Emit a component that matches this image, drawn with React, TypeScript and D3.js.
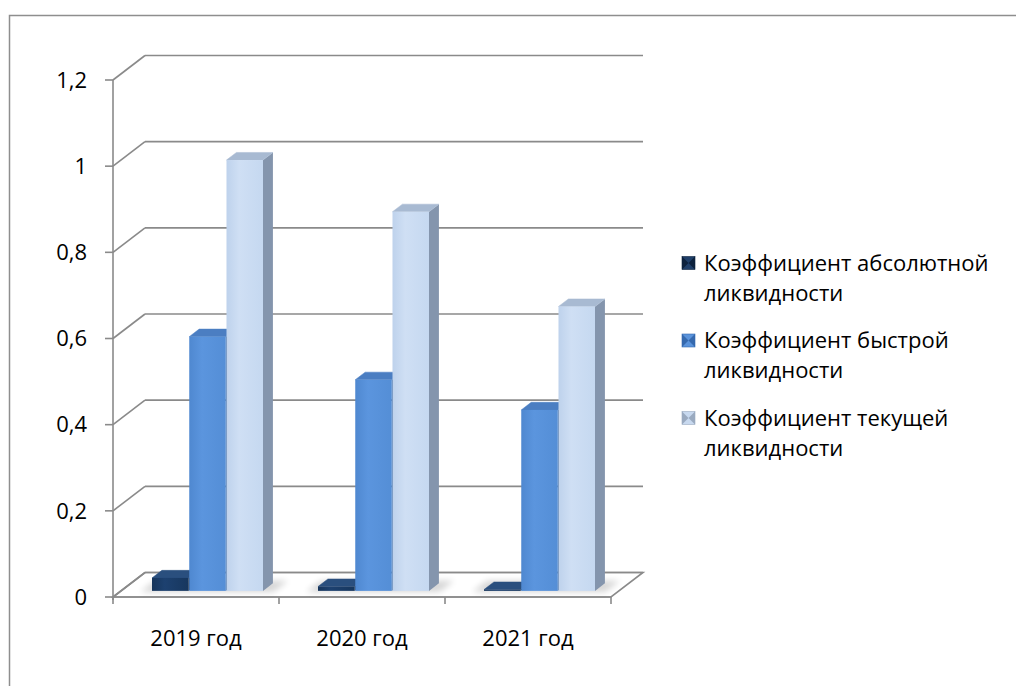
import React from "react";
import * as d3 from "d3";

// Liquidity ratios by year
const categories: string[] = ["2019 год", "2020 год", "2021 год"];
const seriesNames: string[] = [
  "Коэффициент абсолютной ликвидности",
  "Коэффициент быстрой ликвидности",
  "Коэффициент текущей ликвидности",
];
const absoluteRatio: number[] = [0.03, 0.01, 0.003];
const quickRatio: number[] = [0.59, 0.49, 0.42];
const currentRatio: number[] = [1.0, 0.88, 0.66];
const yTicks: number[] = [0, 0.2, 0.4, 0.6, 0.8, 1, 1.2];
const legendLines: string[][] = [
  ["Коэффициент абсолютной", "ликвидности"],
  ["Коэффициент быстрой", "ликвидности"],
  ["Коэффициент текущей", "ликвидности"],
];

const seriesValues = [absoluteRatio, quickRatio, currentRatio];

// Face colours: front gradient stops, top, side
const palette = [
  { front: ["#16355B", "#1D4170", "#17375E"], top: "#2A4F7E", side: "#0F2747", legend: "#1F3F69", legendDark: "#0D223D" },
  { front: ["#4F88D0", "#5B95DE", "#548ED6"], top: "#4B7EC2", side: "#3A67A0", legend: "#5A93DB", legendDark: "#3569AE" },
  { front: ["#BED2EC", "#CFDFF4", "#C5D8F0"], top: "#A8BAD2", side: "#8495AD", legend: "#C8D9EF", legendDark: "#9AAAC0" },
];

const FONT = "'Open Sans', 'Noto Sans', sans-serif";
const FS = 22;
const GRID = "#8A8A8A";

// oblique projection of the back wall
const DX = 32;
const DY = -24.5;
const Z0 = 0.25;
const Z1 = 0.56;

export default function App() {
  const y = d3.scaleLinear().domain([0, 1.2]).range([597, 80]);
  const x = d3.scaleBand<string>().domain(categories).range([113, 611]).padding(0);
  const xs = d3
    .scaleBand<string>()
    .domain(seriesNames)
    .range([31, 142])
    .paddingInner(0.02);

  const P = (xf: number, v: number, z: number): [number, number] => [xf + z * DX, y(v) + z * DY];
  const poly = (pts: [number, number][]) => pts.map((p) => p.join(",")).join(" ");

  const x0 = 113;
  const x1 = 611;
  const yMax = 1.2;

  return (
    <svg
      width={1016}
      height={686}
      style={{ position: "absolute", left: 0, top: 0, background: "#fff" }}
    >
      <defs>
        {palette.map((c, i) => (
          <linearGradient key={i} id={`front${i}`} x1="0" x2="1" y1="0" y2="0">
            <stop offset="0" stopColor={c.front[0]} />
            <stop offset="0.35" stopColor={c.front[1]} />
            <stop offset="1" stopColor={c.front[2]} />
          </linearGradient>
        ))}
        <filter id="soft" x="-50%" y="-50%" width="200%" height="200%">
          <feGaussianBlur stdDeviation="3" />
        </filter>
      </defs>

      {/* chart border */}
      <rect x={9.5} y={15.5} width={1100} height={800} fill="none" stroke="#8E8E8E" strokeWidth={1.5} />

      {/* floor */}
      <polygon
        points={poly([P(x0, 0, 0), P(x1, 0, 0), P(x1, 0, 1), P(x0, 0, 1)])}
        fill="#fff"
        stroke={GRID}
        strokeWidth={1.6}
      />

      {/* gridlines on side and back walls */}
      {yTicks.map((t) => (
        <g key={t}>
          <line
            x1={P(x0, t, 0)[0]}
            y1={P(x0, t, 0)[1]}
            x2={P(x0, t, 1)[0]}
            y2={P(x0, t, 1)[1]}
            stroke={GRID}
            strokeWidth={1.6}
          />
          <line
            x1={P(x0, t, 1)[0]}
            y1={P(x0, t, 1)[1]}
            x2={P(x1, t, 1)[0]}
            y2={P(x1, t, 1)[1]}
            stroke={GRID}
            strokeWidth={1.6}
          />
          <line x1={105} x2={x0} y1={y(t)} y2={y(t)} stroke={GRID} strokeWidth={1.6} />
          <text
            x={87}
            y={y(t)}
            dy="0.35em"
            textAnchor="end"
            fontFamily={FONT}
            fontSize={FS}
            fill="#000"
          >
            {String(t).replace(".", ",")}
          </text>
        </g>
      ))}

      {/* value axis */}
      <line x1={x0} x2={x0} y1={y(yMax)} y2={y(0) + 3} stroke={GRID} strokeWidth={1.6} />

      {/* category axis */}
      <line x1={x0} x2={x1} y1={y(0)} y2={y(0)} stroke={GRID} strokeWidth={1.6} />
      {[...categories.map((c) => x(c) as number), x1].map((tx, i) => (
        <line key={i} x1={tx} x2={tx} y1={y(0)} y2={y(0) + 7} stroke={GRID} strokeWidth={1.6} />
      ))}
      {categories.map((c) => (
        <text
          key={c}
          x={(x(c) as number) + x.bandwidth() / 2}
          y={638}
          dy="0.35em"
          textAnchor="middle"
          fontFamily={FONT}
          fontSize={FS}
          fill="#000"
        >
          {c}
        </text>
      ))}

      {/* floor shadows under each group */}
      {categories.map((c) => {
        const gx0 = (x(c) as number) + (xs(seriesNames[0]) as number);
        const gx1 = (x(c) as number) + (xs(seriesNames[2]) as number) + xs.bandwidth();
        return (
          <polygon
            key={"sh" + c}
            points={poly([P(gx0 - 10, 0, Z0 - 0.05), P(gx1 + 12, 0, Z0 - 0.05), P(gx1 + 12, 0, Z1 + 0.1), P(gx0 - 10, 0, Z1 + 0.1)])}
            fill="#000"
            opacity={0.16}
            filter="url(#soft)"
          />
        );
      })}

      {/* columns */}
      {categories.map((c, ci) =>
        seriesNames.map((s, si) => {
          const v = seriesValues[si][ci];
          const bx = (x(c) as number) + (xs(s) as number);
          const bw = xs.bandwidth();
          const col = palette[si];
          const fTL = P(bx, v, Z0);
          const fBR = P(bx + bw, 0, Z0);
          return (
            <g key={c + s}>
              <polygon
                points={poly([P(bx + bw, 0, Z0), P(bx + bw, v, Z0), P(bx + bw, v, Z1), P(bx + bw, 0, Z1)])}
                fill={col.side}
              />
              <polygon
                points={poly([P(bx, v, Z0), P(bx + bw, v, Z0), P(bx + bw, v, Z1), P(bx, v, Z1)])}
                fill={col.top}
                stroke={col.top}
                strokeWidth={0.5}
                strokeLinejoin="round"
              />
              <rect
                x={fTL[0]}
                y={fTL[1]}
                width={fBR[0] - fTL[0]}
                height={Math.max(0, fBR[1] - fTL[1])}
                fill={`url(#front${si})`}
              />
            </g>
          );
        })
      )}

      {/* legend */}
      {legendLines.map((lines, i) => {
        const ly = 263 + i * 77.5;
        const col = palette[i];
        const mx = 682;
        const my = ly - 6.5;
        const m = 13;
        return (
          <g key={"lg" + i}>
            <rect x={mx} y={my} width={m} height={m} fill={col.legend} />
            <polygon points={poly([[mx, my], [mx + m / 2, my + m / 2], [mx, my + m]])} fill={col.legendDark} />
            <polygon points={poly([[mx + m, my], [mx + m / 2, my + m / 2], [mx + m, my + m]])} fill={col.legendDark} />
            <rect x={mx} y={my} width={m} height={m} fill="none" stroke={col.legendDark} strokeWidth={0.6} />
            {lines.map((ln, k) => (
              <text
                key={k}
                x={704}
                y={ly + k * 30}
                dy="0.35em"
                fontFamily={FONT}
                fontSize={FS}
                fill="#000"
              >
                {ln}
              </text>
            ))}
          </g>
        );
      })}
    </svg>
  );
}
